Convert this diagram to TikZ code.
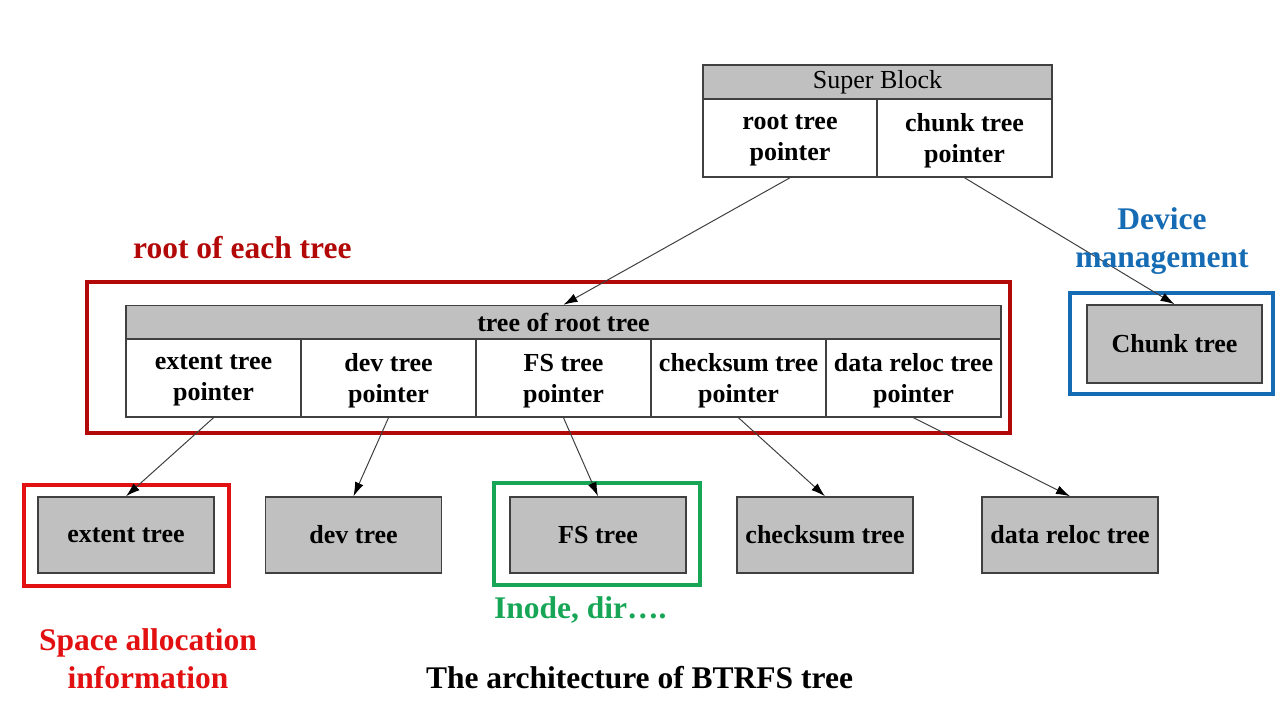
\documentclass[tikz,border=0pt]{standalone}
\usepackage{fontspec}
\setmainfont{Liberation Serif}
\usetikzlibrary{arrows.meta}
\definecolor{boxgray}{RGB}{192,192,192}
\definecolor{edgegray}{RGB}{64,64,64}
\definecolor{darkred}{RGB}{178,8,8}
\definecolor{brightred}{RGB}{226,16,16}
\definecolor{mygreen}{RGB}{22,166,86}
\definecolor{myblue}{RGB}{22,108,180}
\tikzset{
  boxfont/.style={font=\bfseries\fontsize{26}{31}\selectfont},
  cell/.style={draw=edgegray, line width=1.5pt, fill=white, minimum width=175pt, minimum height=78pt, inner sep=0pt, align=center, text depth=0pt, boxfont},
  hdr/.style={draw=edgegray, line width=1.5pt, fill=boxgray, minimum height=34pt, inner sep=0pt},
  treebox/.style={draw=edgegray, line width=1.5pt, fill=boxgray, minimum width=176pt, minimum height=76pt, inner sep=0pt, boxfont},
  frame/.style={line width=4pt, minimum width=#1, inner sep=0pt},
  conn/.style={draw=black!75, line width=1pt, -{Latex[length=14pt,width=9pt,color=black]}},
  lbl/.style={font=\bfseries\fontsize{31.5}{38}\selectfont, inner sep=0pt}
}
\begin{document}
\begin{tikzpicture}[x=1pt,y=-1pt]
\path[use as bounding box] (0,0) rectangle (1278,719);

% Super block
\node[hdr, minimum width=349pt, font=\fontsize{26}{31}\selectfont] (sb) at (877.5,82) {Super Block};
\node[cell, minimum width=174pt] (rtp) at (790,138) {root tree\\pointer};
\node[cell] (ctp) at (964.5,138) {chunk tree\\pointer};

% root frame
\node[frame=923pt, draw=darkred, minimum height=151pt] (rootframe) at (548.5,357.5) {};
\node[hdr, minimum width=875pt, boxfont] (trh) at (563.5,322.5) {tree of root tree};
\node[cell] (ep) at (213.5,378) {extent tree\\pointer};
\node[cell] (dp) at (388.5,378) {dev tree\\pointer};
\node[cell] (fp) at (563.5,378) {FS tree\\pointer};
\node[cell] (cp) at (738.5,378) {checksum tree\\pointer};
\node[cell] (drp) at (913.5,378) {data reloc tree\\pointer};

% chunk tree
\node[frame=203pt, draw=myblue, minimum height=101pt] (blueframe) at (1171.5,343.5) {};
\node[treebox, minimum width=175pt, minimum height=78pt] (chunk) at (1174.5,344) {Chunk tree};

% bottom frames
\node[frame=205pt, draw=brightred, minimum height=101pt] (redframe) at (126.5,535.5) {};
\node[frame=206pt, draw=mygreen, minimum height=102pt] (greenframe) at (597,534) {};

% bottom trees
\node[treebox] (et) at (126,535) {extent tree};
\node[treebox] (dt) at (353.5,535) {dev tree};
\node[treebox] (ft) at (598,535) {FS tree};
\node[treebox] (ct) at (825,535) {checksum tree};
\node[treebox] (drt) at (1070,535) {data reloc tree};

% connectors
\draw[conn] (rtp.south) -- (trh.north);
\draw[conn] (ctp.south) -- (chunk.north);
\draw[conn] (ep.south) -- (et.north);
\draw[conn] (dp.south) -- (dt.north);
\draw[conn] (fp.south) -- (ft.north);
\draw[conn] (cp.south) -- (ct.north);
\draw[conn] (drp.south) -- (drt.north);

% labels
\node[lbl, text=darkred, anchor=base west] (l1) at (133,259) {root of each tree};
\node[lbl, text=myblue, align=center, anchor=base] (l2) at (1162,268) {Device\\management};
\node[lbl, text=mygreen, anchor=base west] (l3) at (494,618) {Inode, dir….};
\node[lbl, text=brightred, align=center, anchor=base] (l4) at (148,688) {Space allocation\\information};
\node[lbl, text=black, anchor=base] (cap) at (639.5,688) {The architecture of BTRFS tree};
\end{tikzpicture}
\end{document}
